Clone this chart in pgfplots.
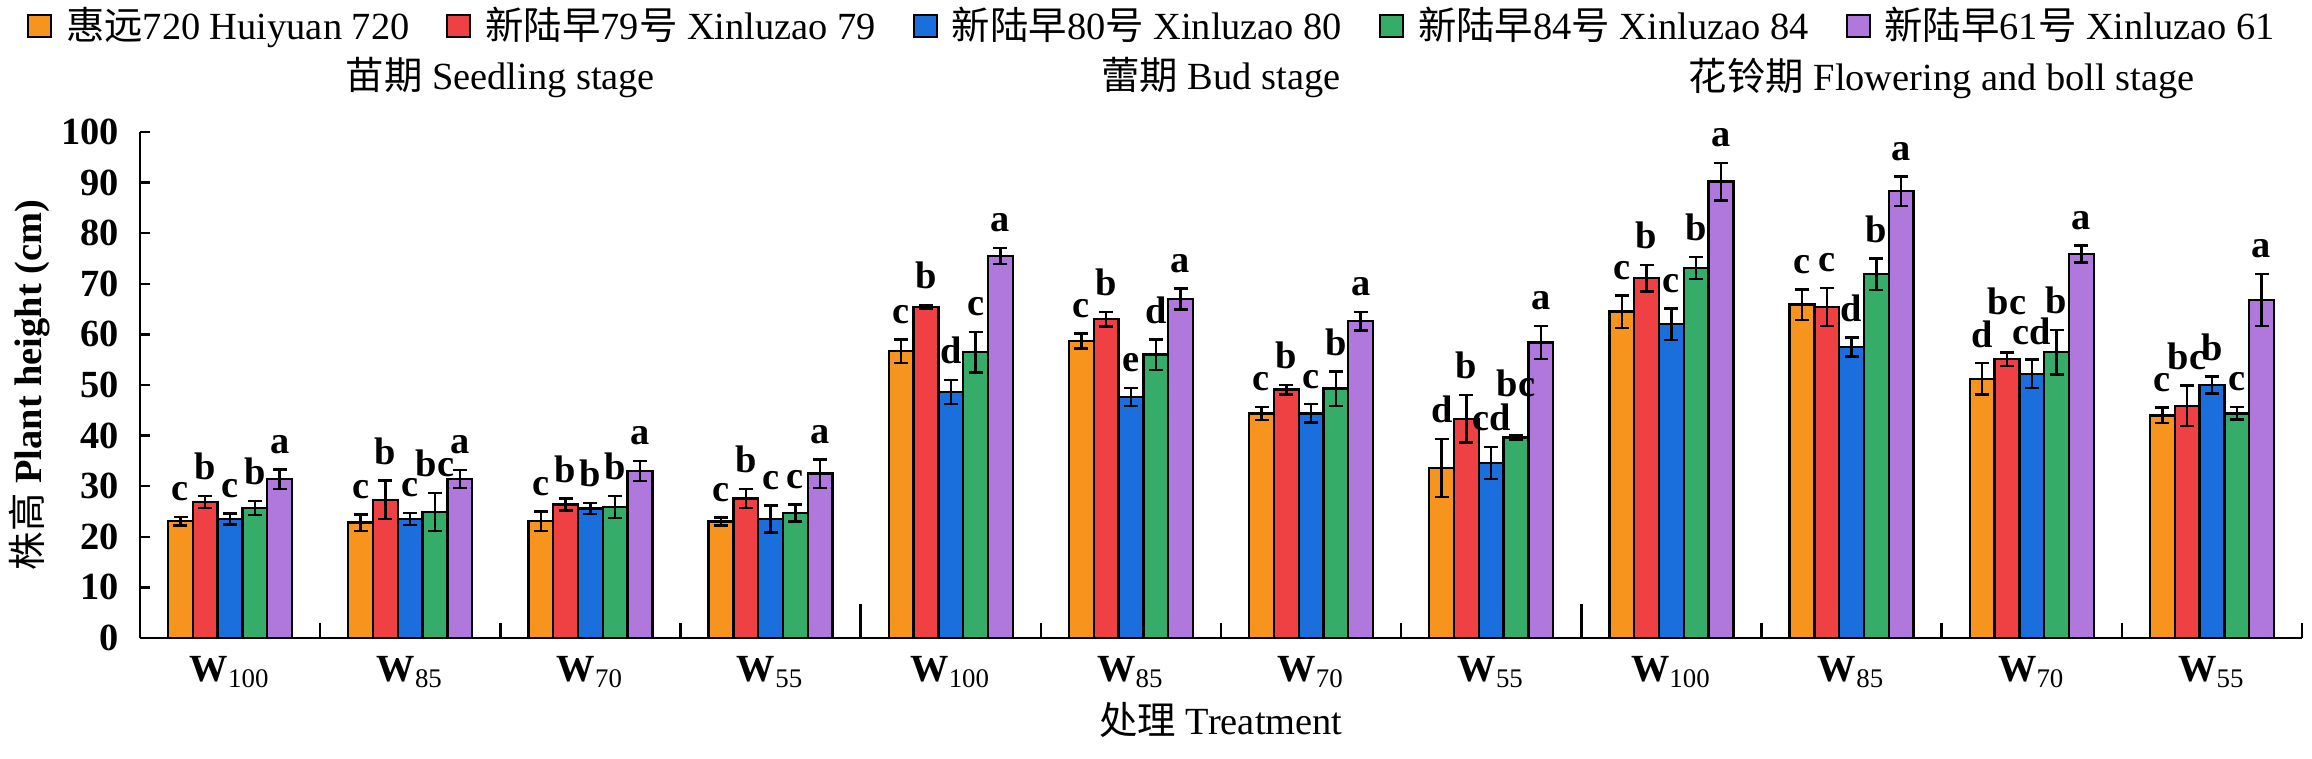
\documentclass[border=0pt]{standalone}
\usepackage{fontspec}
\setmainfont{Liberation Serif}
\newfontfamily\cjk{Noto Sans CJK SC}
\usepackage{pgfplots}
\usepackage{pgfplotstable}
\pgfplotsset{compat=1.18}
\definecolor{c1}{HTML}{F7941D}
\definecolor{c2}{HTML}{EF4144}
\definecolor{c3}{HTML}{1B6FDC}
\definecolor{c4}{HTML}{36AC69}
\definecolor{c5}{HTML}{B078DC}

\pgfplotstableread{
x y e lab d
0 23.1 0.85 c 3.2
1 22.8 1.6 c 3.2
2 23.1 1.9 c 3.2
3 23.0 0.8 c 3.2
4 56.7 2.3 c 3.2
5 58.7 1.45 c 3.2
6 44.4 1.3 c 3.2
7 33.6 5.7 d 3.2
8 64.5 3.2 c 3.2
9 65.9 3.0 c 3.2
10 51.2 3.1 d 3.2
11 44.0 1.55 c 3.2
}\tA
\pgfplotstableread{
x y e lab d
0 26.9 1.2 b 3.2
1 27.3 3.8 b 3.2
2 26.4 1.2 b 3.2
3 27.6 1.9 b 3.2
4 65.4 0.4 b 3.2
5 63.0 1.45 b 3.2
6 49.1 0.95 b 3.2
7 43.3 4.7 b 3.2
8 71.1 2.6 b 3.2
9 65.4 3.75 c 3.2
10 55.1 1.3 bc 7.6
11 45.9 4.0 bc 3.2
}\tB
\pgfplotstableread{
x y e lab d
0 23.5 1.1 c 3.2
1 23.5 1.2 c 3.2
2 25.6 1.1 b 3.2
3 23.5 2.65 c 3.2
4 48.6 2.4 d 3.2
5 47.6 1.8 e 3.2
6 44.4 1.8 c 3.2
7 34.6 3.2 cd 3.2
8 62.0 3.1 c 3.2
9 57.5 1.9 d 3.2
10 52.2 2.8 cd 3.0
11 50.0 1.7 b 3.2
}\tC
\pgfplotstableread{
x y e lab d
0 25.7 1.4 b 3.2
1 24.9 3.8 bc 3.2
2 25.9 2.2 b 3.2
3 24.7 1.7 c 3.2
4 56.5 4.0 c 3.2
5 56.0 3.0 d 3.2
6 49.3 3.4 b 3.2
7 39.6 0.4 bc 7.8
8 73.1 2.2 b 3.2
9 71.9 3.1 b 3.2
10 56.5 4.4 b 3.2
11 44.4 1.25 c 3.2
}\tD
\pgfplotstableread{
x y e lab d
0 31.4 1.9 a 3.2
1 31.4 1.8 a 3.2
2 33.0 2.0 a 3.2
3 32.5 2.8 a 3.2
4 75.5 1.6 a 3.2
5 67.0 2.1 a 3.2
6 62.6 1.8 a 3.2
7 58.4 3.3 a 3.2
8 90.2 3.7 a 3.2
9 88.3 2.9 a 3.2
10 75.9 1.7 a 3.2
11 66.8 5.1 a 3.2
}\tE

\pgfplotsset{
  mybar/.style={ybar, bar width=0.1376, bar shift=0pt, draw=black, line width=0.6pt,
    legend image code/.code={\draw[##1, line width=0.5pt] (0pt,-2.75pt) rectangle (5.75pt,2.75pt);},
    error bars/y dir=both, error bars/y explicit,
    error bars/error bar style={line width=0.6pt, black},
    error bars/error mark options={rotate=90, mark size=1.75pt, line width=0.6pt, black}},
  mylab/.style={forget plot, only marks, black, mark=*, mark size=0pt,
    mark options={draw=none, fill=none}, nodes near coords, point meta=explicit symbolic,
    nodes near coords style={font=\bfseries, anchor=base, inner sep=0pt, black}},
}

\begin{document}
\fontsize{9.6pt}{11.5pt}\selectfont
\begin{tikzpicture}[font=\fontsize{9.6pt}{11.5pt}\selectfont]
\begin{axis}[
  at={(0,0)}, anchor=south west,
  scale only axis, width=540.5pt, height=126.5pt,
  xmin=-0.5, xmax=11.5, ymin=0, ymax=100, enlargelimits=false,
  axis lines*=left, axis line style={line width=0.7pt},
  clip=false,
  tick align=inside,
  tick style={line width=0.6pt, black},
  xtick={0,...,11},
  xticklabels={\textbf{W}\textsubscript{100},\textbf{W}\textsubscript{85},\textbf{W}\textsubscript{70},\textbf{W}\textsubscript{55},
               \textbf{W}\textsubscript{100},\textbf{W}\textsubscript{85},\textbf{W}\textsubscript{70},\textbf{W}\textsubscript{55},
               \textbf{W}\textsubscript{100},\textbf{W}\textsubscript{85},\textbf{W}\textsubscript{70},\textbf{W}\textsubscript{55}},
  major x tick style={draw=none},
  minor xtick={-0.5,0.5,...,11.5},
  minor tick length=3.75pt, major tick length=2.5pt,
  ytick={0,10,...,100},
  /pgf/number format/assume math mode=true,
  yticklabel style={font=\bfseries, inner sep=0pt, xshift=-5pt},
  xticklabel style={anchor=base, inner sep=0pt, yshift=-11pt},
  xlabel={{\cjk 处理} Treatment},
  xlabel style={at={(axis description cs:0.5,-0.16206)}, anchor=center},
  ylabel={{\cjk 株高} \textbf{Plant height (cm)}},
  ylabel style={at={(axis description cs:-0.05088,0.5)}, anchor=center},
  legend columns=5,
  legend style={at={(0.4676,1.2095)}, anchor=center, draw=none, fill=none,
    inner sep=0pt, outer sep=0pt, column sep=0pt, nodes={inner sep=0pt},
    /tikz/every odd column/.append style={column sep=3.5pt},
    /tikz/every even column/.append style={column sep=9.25pt}},
]
\addplot[mybar, fill=c1] table[x expr=\thisrow{x}-0.2752,y=y,y error=e]{\tA};
\addlegendentry{{\cjk 惠远}720 Huiyuan 720}
\addplot[mybar, fill=c2] table[x expr=\thisrow{x}-0.1376,y=y,y error=e]{\tB};
\addlegendentry{{\cjk 新陆早}79{\cjk 号} Xinluzao 79}
\addplot[mybar, fill=c3] table[x expr=\thisrow{x},y=y,y error=e]{\tC};
\addlegendentry{{\cjk 新陆早}80{\cjk 号} Xinluzao 80}
\addplot[mybar, fill=c4] table[x expr=\thisrow{x}+0.1376,y=y,y error=e]{\tD};
\addlegendentry{{\cjk 新陆早}84{\cjk 号} Xinluzao 84}
\addplot[mybar, fill=c5] table[x expr=\thisrow{x}+0.2752,y=y,y error=e]{\tE};
\addlegendentry{{\cjk 新陆早}61{\cjk 号} Xinluzao 61}

\addplot[mylab] table[x expr=\thisrow{x}-0.2752, y expr=\thisrow{y}+\thisrow{e}+\thisrow{d}, meta=lab]{\tA};
\addplot[mylab] table[x expr=\thisrow{x}-0.1376, y expr=\thisrow{y}+\thisrow{e}+\thisrow{d}, meta=lab]{\tB};
\addplot[mylab] table[x expr=\thisrow{x}, y expr=\thisrow{y}+\thisrow{e}+\thisrow{d}, meta=lab]{\tC};
\addplot[mylab] table[x expr=\thisrow{x}+0.1376, y expr=\thisrow{y}+\thisrow{e}+\thisrow{d}, meta=lab]{\tD};
\addplot[mylab] table[x expr=\thisrow{x}+0.2752, y expr=\thisrow{y}+\thisrow{e}+\thisrow{d}, meta=lab]{\tE};

\addplot[forget plot, black, line width=0.6pt, mark=none] coordinates {(3.5,0) (3.5,6.7)};
\addplot[forget plot, black, line width=0.6pt, mark=none] coordinates {(7.5,0) (7.5,6.7)};

\node at (axis description cs:0.16667,1.1067) {{\cjk 苗期} Seedling stage};
\node at (axis description cs:0.5,1.1067) {{\cjk 蕾期} Bud stage};
\node at (axis description cs:0.83333,1.1067) {{\cjk 花铃期} Flowering and boll stage};
\end{axis}
\pgfresetboundingbox
\path[use as bounding box] (-35pt,-30.25pt) rectangle (543pt,159.5pt);
\end{tikzpicture}
\end{document}
